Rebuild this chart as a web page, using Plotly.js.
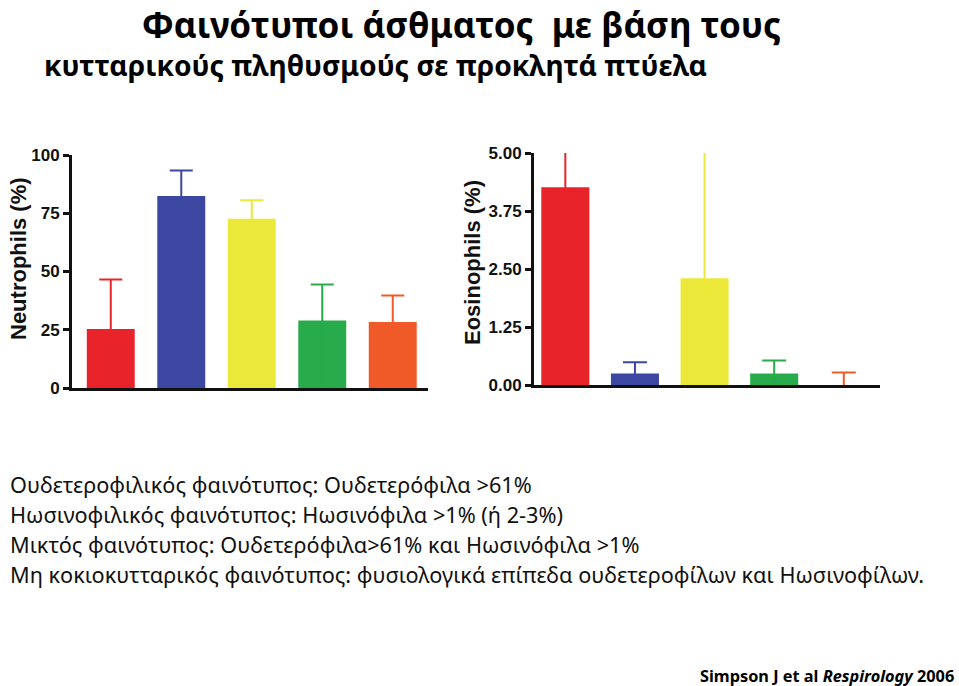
<!DOCTYPE html>
<html>
<head>
<meta charset="utf-8">
<script src="https://cdn.plot.ly/plotly-3.0.1.min.js"></script>
<style>html,body{margin:0;padding:0;background:#fff}</style>
</head>
<body>
<div id="chart" style="width:959px;height:686px"></div>
<script>
// Phenotype categories (bar order, left to right)
const categories = ["Ηωσινοφιλικός", "Ουδετεροφιλικός", "Μικτός", "Μη κοκιοκυτταρικός", "Υγιείς"];
const barColors = ["#e8242a", "#3b47a0", "#ebe83a", "#28ab4b", "#f05a28"];

// Neutrophils (%) – mean and top of error bar
const neutMean = [25.3, 82.4, 72.6, 29.0, 28.3];
const neutErrTop = [46.6, 93.3, 80.6, 44.4, 39.7];

// Eosinophils (%) – mean and top of error bar
const eosMean = [4.26, 0.25, 2.30, 0.25, 0.0];
const eosErrTop = [5.6, 0.49, 6.5, 0.53, 0.27];

const neutTicks = [0, 25, 50, 75, 100];
const neutTickText = ["0", "25", "50", "75", "100"];
const eosTicks = [0, 1.25, 2.5, 3.75, 5];
const eosTickText = ["0.00", "1.25", "2.50", "3.75", "5.00"];

const titleLines = ["Φαινότυποι άσθματος  με βάση τους", "κυτταρικούς πληθυσμούς σε προκλητά πτύελα"];
const axisTitles = ["Neutrophils (%)", "Eosinophils (%)"];
const noteLines = [
  "Ουδετεροφιλικός φαινότυπος: Ουδετερόφιλα >61%",
  "Ηωσινοφιλικός φαινότυπος: Ηωσινόφιλα >1% (ή 2-3%)",
  "Μικτός φαινότυπος: Ουδετερόφιλα>61% και Ηωσινόφιλα >1%",
  "Μη κοκιοκυτταρικός φαινότυπος: φυσιολογικά επίπεδα ουδετεροφίλων και Ηωσινοφίλων."
];
const sourceText = "<b>Simpson J et al <i>Respirology</i> 2006</b>";

const W = 959, H = 686;
const px = v => v / W;
const py = v => 1 - v / H;

const traces = [];
categories.forEach((c, i) => {
  // one-sided (upper) error bars; the lower arm runs through the bar in its own colour and is clipped below the axis
  traces.push({
    type: "bar", x: [c], y: [neutMean[i]], xaxis: "x", yaxis: "y",
    width: 0.68, marker: {color: barColors[i], line: {width: 0}}, cliponaxis: true,
    error_y: {type: "data", symmetric: false, array: [neutErrTop[i] - neutMean[i]], arrayminus: [neutMean[i] + 8],
              color: barColors[i], thickness: 2, width: 11.5},
    showlegend: false, hoverinfo: "x+y"
  });
  traces.push({
    type: "bar", x: [c], y: [eosMean[i]], xaxis: "x2", yaxis: "y2",
    width: 0.69, marker: {color: barColors[i], line: {width: 0}}, cliponaxis: true,
    error_y: {type: "data", symmetric: false, array: [eosErrTop[i] - eosMean[i]], arrayminus: [eosMean[i] + 0.4],
              color: barColors[i], thickness: 2, width: 12},
    showlegend: false, hoverinfo: "x+y"
  });
});

const tickFont = {family: "Liberation Sans, Arial, sans-serif", size: 17, color: "#111", weight: 700};
const axTitleFont = {family: "Liberation Sans, Arial, sans-serif", size: 22, color: "#111", weight: 700};

const baseX = {type: "category", showticklabels: false, ticks: "", showgrid: false, zeroline: false,
               showline: true, linecolor: "#111", linewidth: 3, fixedrange: true};
const baseY = {showgrid: false, zeroline: false, showline: true, linecolor: "#111", linewidth: 3,
               ticks: "outside", ticklen: 6, tickwidth: 3, tickcolor: "#111", tickfont: tickFont, fixedrange: true};

const annFont = {family: "Noto Sans, sans-serif", size: 21.7, color: "#111"};
const annotations = [];
annotations.push({xref: "paper", yref: "paper", x: px(461), y: 1, xanchor: "center", yanchor: "top", borderpad: 0,
  text: "<b>" + titleLines[0] + "</b>", showarrow: false, font: {family: "Noto Sans, sans-serif", size: 35, color: "#000"}});
annotations.push({xref: "paper", yref: "paper", x: px(375), y: py(65), xanchor: "center", yanchor: "middle",
  text: "<b>" + titleLines[1] + "</b>", showarrow: false, font: {family: "Noto Sans, sans-serif", size: 28.2, color: "#000"}});
annotations.push({xref: "paper", yref: "paper", x: px(18), y: py(259), xanchor: "center", yanchor: "middle",
  textangle: -90, text: axisTitles[0], showarrow: false, font: axTitleFont});
annotations.push({xref: "paper", yref: "paper", x: px(472), y: py(263), xanchor: "center", yanchor: "middle",
  textangle: -90, text: axisTitles[1], showarrow: false, font: axTitleFont});
const noteY = [484, 514, 544, 574];
noteLines.forEach((t, i) => annotations.push({xref: "paper", yref: "paper", x: px(8), y: py(noteY[i]),
  xanchor: "left", yanchor: "middle", text: t, showarrow: false, font: annFont}));
annotations.push({xref: "paper", yref: "paper", x: px(956), y: py(676), xanchor: "right", yanchor: "middle",
  text: sourceText, showarrow: false, font: {family: "Noto Sans, sans-serif", size: 16.3, color: "#000"}});

const layout = {
  width: W, height: H, margin: {l: 0, r: 0, t: 0, b: 0},
  paper_bgcolor: "#fff", plot_bgcolor: "#fff", barmode: "overlay", bargap: 0.3,
  xaxis: Object.assign({}, baseX, {domain: [px(72), px(428)], range: [-0.55, 4.5], anchor: "y"}),
  yaxis: Object.assign({}, baseY, {domain: [py(388), py(155)], range: [0, 100], tickvals: neutTicks, ticktext: neutTickText, anchor: "x"}),
  xaxis2: Object.assign({}, baseX, {domain: [px(534), px(880)], range: [-0.45, 4.52], anchor: "y2"}),
  yaxis2: Object.assign({}, baseY, {domain: [py(385), py(153)], range: [0, 5], tickvals: eosTicks, ticktext: eosTickText, anchor: "x2"}),
  annotations: annotations,
  font: {family: "Noto Sans, sans-serif"}
};

Plotly.newPlot("chart", traces, layout, {displayModeBar: false, staticPlot: true});
</script>
</body>
</html>
